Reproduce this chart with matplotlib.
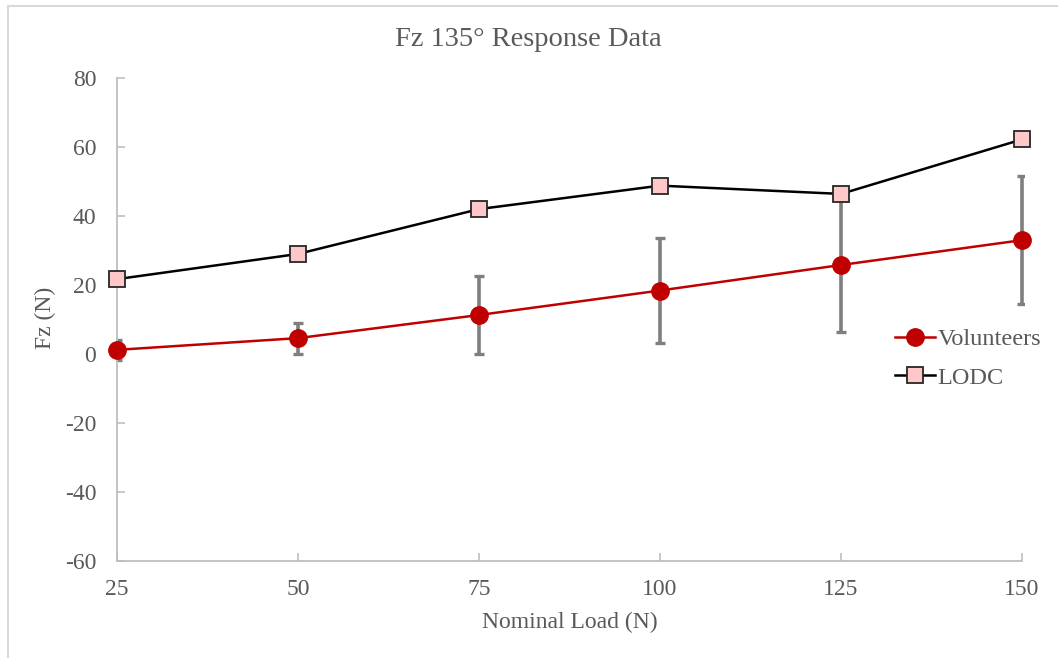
import matplotlib
matplotlib.use("Agg")
import matplotlib.pyplot as plt
from matplotlib.lines import Line2D
from matplotlib.patches import Rectangle
from matplotlib.transforms import Bbox

# Nominal load levels and measured Fz
loads = [25, 50, 75, 100, 125, 150]
volunteers = [1.2, 4.6, 11.3, 18.4, 25.8, 33.0]
volunteers_err = [3.0, 4.5, 11.2, 15.3, 19.5, 18.6]
lodc = [21.7, 29.0, 42.0, 48.8, 46.4, 62.2]

x_ticks = [25, 50, 75, 100, 125, 150]
y_ticks = [-60, -40, -20, 0, 20, 40, 60, 80]

plt.rcParams['font.family'] = ['Liberation Serif', 'DejaVu Serif']
plt.rcParams['axes.unicode_minus'] = False
text_col = '#595959'
axis_col = '#bfbfbf'

W, H = 1058, 658
fig = plt.figure(figsize=(W / 100, H / 100), dpi=100)
ax = fig.add_axes([117 / W, 1 - 561 / H, (1022 - 117) / W, (561 - 78) / H])

# chart-area frame (left and top edges)
fig.patches.append(Rectangle((8 / W, -0.05), 1.2, 1 - 6 / H + 0.05,
                             transform=fig.transFigure, fill=False,
                             edgecolor='#d9d9d9', linewidth=1.5))

# error bars on the volunteer data, clipped just outside the plot area
eb = ax.errorbar(loads, volunteers, yerr=volunteers_err, fmt='none',
                 ecolor='#7f7f7f', elinewidth=2.6, capsize=3.3, capthick=2.4,
                 zorder=2)
clip = Bbox.from_extents(115.5, H - 563, 1023.8, H - 76)
for artist in list(eb.lines[1]) + list(eb.lines[2]):
    artist.set_clip_box(clip)
    artist.set_clip_on(True)

ax.plot(loads, volunteers, color='#c00000', linewidth=1.8, marker='o',
        markersize=12.5, markerfacecolor='#c00000', markeredgecolor='#c00000',
        clip_on=False, zorder=3, label='Volunteers')
ax.plot(loads, lodc, color='#000000', linewidth=1.8, marker='s',
        markersize=12, markerfacecolor='#ffc7c7', markeredgecolor='#262626',
        markeredgewidth=1.3, clip_on=False, zorder=4, label='LODC')

ax.set_xlim(25, 150)
ax.set_ylim(-60, 80)
ax.set_xticks(x_ticks)
ax.set_yticks(y_ticks)

for side in ('top', 'right'):
    ax.spines[side].set_visible(False)
for side in ('left', 'bottom'):
    ax.spines[side].set_color(axis_col)
    ax.spines[side].set_linewidth(1.3)

ax.tick_params(axis='both', direction='in', length=6, width=1.2,
               color=axis_col, labelcolor=text_col, labelsize=17)
ax.tick_params(axis='x', pad=13)
ax.tick_params(axis='y', pad=15)

ax.set_xlabel('Nominal Load (N)', fontsize=17, color=text_col, va='center')
ax.set_ylabel('Fz (N)', fontsize=17, color=text_col, va='center')
ax.xaxis.set_label_coords((570 - 117) / 905, (561 - 622) / 483)
ax.yaxis.set_label_coords((45 - 117) / 905, (561 - 318) / 483)

fig.text(528 / W, 1 - 40 / H, 'Fz 135° Response Data', ha='center',
         va='center', fontsize=20.5, color=text_col)

handles = [
    Line2D([], [], color='#c00000', linewidth=1.8, marker='o', markersize=12.5,
           markerfacecolor='#c00000', markeredgecolor='#c00000'),
    Line2D([], [], color='#000000', linewidth=1.8, marker='s', markersize=12,
           markerfacecolor='#ffc7c7', markeredgecolor='#262626',
           markeredgewidth=1.3),
]
leg = ax.legend(handles, ['Volunteers', 'LODC'], loc='center left',
                bbox_to_anchor=(895 / W, 1 - 358.5 / H),
                bbox_transform=fig.transFigure, frameon=False, fontsize=17.5,
                handlelength=1.65, handletextpad=0.1, labelspacing=0.66,
                borderaxespad=0, borderpad=0)
for t in leg.get_texts():
    t.set_color(text_col)

fig.savefig('out.png', dpi=100)
